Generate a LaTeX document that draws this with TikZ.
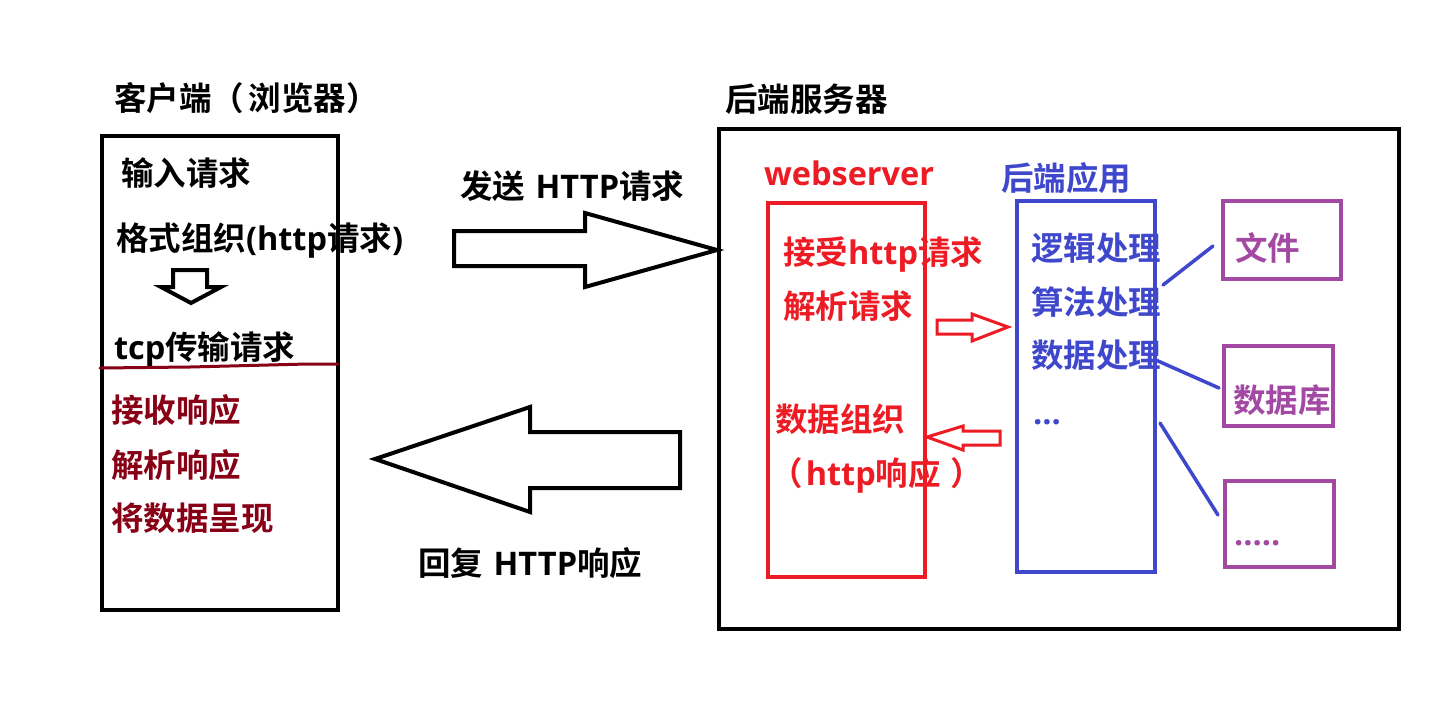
\documentclass[tikz,border=0pt]{standalone}
\usepackage{fontspec}
\setmainfont{Noto Sans CJK SC}[BoldFont={Noto Sans CJK SC Bold}]
\newfontfamily\enf{Open Sans}[BoldFont={Open Sans Bold}]
\newcommand\en[1]{{\enf\bfseries #1}}
\definecolor{dkred}{HTML}{880015}
\definecolor{wred}{HTML}{ED1C24}
\definecolor{wblue}{HTML}{3F48CC}
\definecolor{wpurple}{HTML}{A349A4}
\tikzset{
  txt/.style={anchor=west, inner sep=0pt, outer sep=0pt, font=\fontsize{32.5}{38}\selectfont\bfseries, text height=28pt, text depth=4pt},
  entxt/.style={anchor=base west, inner sep=0pt, outer sep=0pt, font=\fontsize{32.5}{38}\selectfont\enf\bfseries},
  frame/.style={draw, line width=4pt, inner sep=0pt, outer sep=0pt},
  blockarrow/.style={draw, line width=4pt, line join=miter, fill=white},
  smallarrow/.style={draw=wred, line width=3pt, line join=miter, fill=white},
  link/.style={draw=wblue, line width=3.5pt, line cap=round},
}
\begin{document}
\begin{tikzpicture}[x=1pt,y=-1pt]
\useasboundingbox (0,0) rectangle (1431,716);
\fill[white] (0,0) rectangle (1431,716);

% ---------- client ----------
\node[txt] (ctitle) at (114,98) {客户端（\hspace{0.15em}浏览器）};
\node[frame, minimum width=236pt, minimum height=474pt] (client) at (220,373) {};
\node[txt] (c1) at (121,173) {输入请求};
\node[txt] (c2) at (116,238) {格式组织\en{(http}请求\en{)}};
\coordinate (da1) at (173,270);
\draw[blockarrow] (da1) -- (207,270) -- (207,287) -- (221,287) -- (191,303) -- (161,287) -- (173,287) -- cycle;
\node[txt] (c3) at (114,347) {\en{tcp}传输请求};
\coordinate (sepL) at (100,368);
\coordinate (sepR) at (338,364);
\draw[dkred, line width=3pt, line cap=round] (sepL) -- (190,367) -- (307,364) -- (sepR);
\node[txt, text=dkred] (c4) at (111,410) {接收响应};
\node[txt, text=dkred] (c5) at (111,465) {解析响应};
\node[txt, text=dkred] (c6) at (111,518) {将数据呈现};

% ---------- send / reply arrows ----------
\node[txt] (sendlbl) at (460,186) {发送\hspace{0.1em} \en{HTTP}请求};
\coordinate (sendtip) at (717,250);
\draw[blockarrow] (454,231) -- (585,231) -- (585,213) -- (sendtip) -- (585,287) -- (585,266) -- (454,266) -- cycle;
\coordinate (replytip) at (375,459);
\draw[blockarrow] (replytip) -- (530,407) -- (530,432) -- (680,432) -- (680,488) -- (530,488) -- (530,512) -- cycle;
\node[txt] (replylbl) at (418,563) {回复\hspace{0.1em} \en{HTTP}响应};

% ---------- server ----------
\node[txt] (stitle) at (725,99) {后端服务器};
\node[frame, minimum width=680pt, minimum height=500pt] (server) at (1059,379) {};

% webserver
\node[entxt, text=wred] (wstitle) at (764,185) {webserver};
\node[frame, draw=wred, minimum width=157pt, minimum height=374pt] (ws) at (846.5,390) {};
\node[txt, text=wred] (w1) at (783,252) {接受\en{http}请求};
\node[txt, text=wred] (w2) at (783,306) {解析请求};
\node[txt, text=wred] (w3) at (775,419) {数据组织};
\node[txt, text=wred] (w4) at (770,473) {（\hspace{0.1em}\en{http}响应\hspace{0.3em}）};
\draw[smallarrow] (937,320) -- (972,320) -- (972,314) -- (1008,327) -- (972,341) -- (972,334) -- (937,334) -- cycle;
\draw[smallarrow] (927,437) -- (963,426) -- (963,431) -- (1000,431) -- (1000,445) -- (963,445) -- (963,450) -- cycle;

% backend app
\node[txt, text=wblue] (btitle) at (1001,178) {后端应用};
\node[frame, draw=wblue, minimum width=138pt, minimum height=371pt] (app) at (1086,386.5) {};
\node[txt, text=wblue] (b1) at (1031,248) {逻辑处理};
\node[txt, text=wblue] (b2) at (1031,302) {算法处理};
\node[txt, text=wblue] (b3) at (1031,355) {数据处理};
\node[entxt, text=wblue] (b4) at (1033,424) {...};

% storage
\node[frame, draw=wpurple, minimum width=118pt, minimum height=78pt] (file) at (1282,240) {};
\node[txt, text=wpurple] (filelbl) at (1235,248) {文件};
\node[frame, draw=wpurple, minimum width=109pt, minimum height=80pt] (db) at (1278.5,386) {};
\node[txt, text=wpurple] (dblbl) at (1233,400) {数据库};
\node[frame, draw=wpurple, minimum width=109pt, minimum height=86pt] (other) at (1279.5,524) {};
\node[entxt, text=wpurple] (otherlbl) at (1234,545) {.....};

% links
\coordinate (l1a) at (1163,285); \coordinate (l1b) at (1213,246);
\coordinate (l2a) at (1158,361); \coordinate (l2b) at (1219,388);
\coordinate (l3a) at (1160,423); \coordinate (l3b) at (1218,515);
\draw[link] (l1a) -- (l1b);
\draw[link] (l2a) -- (l2b);
\draw[link] (l3a) -- (l3b);
\end{tikzpicture}
\end{document}
